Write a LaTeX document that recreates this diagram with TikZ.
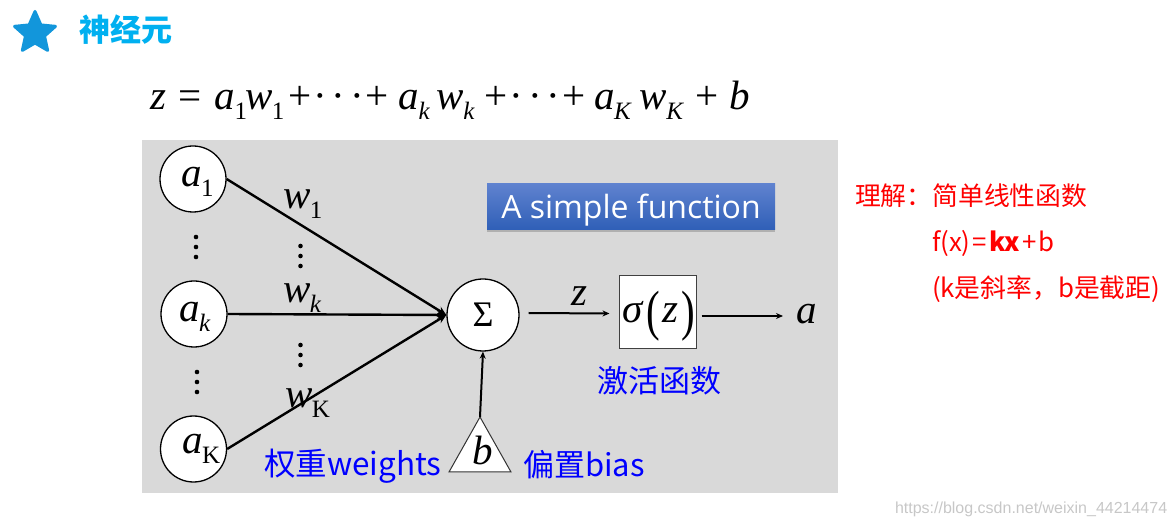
\documentclass[tikz,border=0pt]{standalone}
\usepackage{fontspec}
\usepackage{graphicx}
\setmainfont{Liberation Serif}
\newfontfamily\cjk{Noto Sans CJK SC}
\newfontfamily\uifont{Open Sans}
\newfontfamily\arialf{Liberation Sans}
\usetikzlibrary{arrows.meta,shapes.geometric,shadows,calc}
\definecolor{panelgray}{HTML}{D9D9D9}
\definecolor{titleblue}{HTML}{00B0F0}
\definecolor{starblue}{HTML}{1296DB}
\definecolor{btnTop}{HTML}{5F82CF}
\definecolor{btnBot}{HTML}{2F5FB7}
\newcommand\fz[1]{\fontsize{#1}{#1}\selectfont}
\newcommand\ssb[2]{\textit{#1}\kern-.5pt\raisebox{-.22em}{\fz{25}#2}}
\newcommand\ssi[2]{\textit{#1}\kern-.5pt\raisebox{-.22em}{\fz{25}\textit{#2}}}
\newcommand\dotcol[2]{\foreach \d in {-10,0,10}{\fill (#1,#2+\d) circle (2.3);}}
\newcommand\cdotsx{\makebox[54pt]{\textperiodcentered\kern5pt\textperiodcentered\kern5pt\textperiodcentered}}
\newcommand\bigparen[1]{\raisebox{-.17em}{\scalebox{1}[1.35]{#1}}}
\tikzset{
  lab/.style={inner sep=0pt,outer sep=0pt,anchor=base west},
  bluetxt/.style={lab,text=blue,font=\cjk\fz{31}},
  redtxt/.style={lab,text=red,font=\cjk\fz{25.8}},
  neuron/.style={circle,draw=black,line width=1.3pt,fill=white,minimum size=66,inner sep=0pt},
  link/.style={line width=2.4pt,-{Stealth[length=9pt,width=8pt]}},
  thinlink/.style={line width=2pt,-{Stealth[length=7pt,width=6pt]}},
  var/.style={lab,font=\fz{41}\itshape},
}
\begin{document}
\begin{tikzpicture}[x=1pt,y=-1pt]
\useasboundingbox (0,0) rectangle (1176,526);
\node[star,star points=5,star point ratio=2.15,fill=starblue,draw=starblue,line width=3pt,line join=round,minimum size=43,inner sep=0pt] (star) at (35,33) {};
\node[lab,font=\cjk\bfseries\fz{31},text=titleblue] (title) at (79,42) {神经元};
\node[lab,font=\fz{41}] (formula) at (150,110) {\textit{z}\kern12.5pt=\kern13pt\ssb{a}{1}\kern-2pt\ssb{w}{1}\kern4pt+\cdotsx+\kern10pt\ssi{a}{k}\kern6.5pt\ssi{w}{k}\kern10pt+\cdotsx+\kern9pt\ssi{a}{K}\kern7.5pt\ssi{w}{K}\kern11pt+\kern11pt\textit{b}};
\fill[panelgray] (142,140) rectangle (838,493);
\node[neuron] (a1) at (193,179) {};
\node[neuron] (ak) at (194,314) {};
\node[neuron] (aK) at (193.5,449) {};
\node[lab,font=\fz{41}] (a1t) at (181,187) {\ssb{a}{1}};
\node[lab,font=\fz{41}] (akt) at (179,322) {\ssi{a}{k}};
\node[lab,font=\fz{41}] (aKt) at (182,454) {\ssb{a}{K}};
\node[circle,draw=black,line width=1.3pt,fill=white,minimum size=72,inner sep=0pt,font=\fz{36}] (sum) at (483,315) {Σ};
\node[draw=black!75,line width=1pt,fill=white,minimum width=77,minimum height=73,inner sep=0pt,font=\fz{41}] (sigma) at (657.5,312.5) {\raisebox{0pt}[21pt][0pt]{\kern2pt\textit{σ}\kern3pt\bigparen{(}\kern2pt\textit{z}\kern3pt\bigparen{)}}};
\coordinate (bapex) at (480,417);
\coordinate (bl) at (449,472);
\coordinate (br) at (511,472);
\draw[fill=white,draw=black!80,line width=1pt,line join=miter] (bapex) -- (bl) -- (br) -- cycle;
\node[var] (bt) at (472,465) {b};
\draw[link] (a1.east) -- (sum.west);
\draw[link] (ak.east) -- (sum.west);
\draw[link] (aK.east) -- (sum.west);
\draw[thinlink] ([xshift=9pt,yshift=2pt]sum.east) -- ([xshift=-9pt,yshift=-.5pt]sigma.west |- 0,313);
\node[var] (aout) at (796,324) {a};
\draw[thinlink] ([xshift=5pt,yshift=-3.5pt]sigma.east) -- ([xshift=-13pt]aout.west |- 0,316);
\draw[thinlink] (bapex) -- (sum.south);
\node[var] (zt) at (571,306) {z};
\node[lab,font=\fz{41}] (w1t) at (283,209) {\ssb{w}{1}};
\node[lab,font=\fz{41}] (wkt) at (283,303) {\ssi{w}{k}};
\node[lab,font=\fz{41}] (wKt) at (285,408) {\ssb{w}{K}};
\dotcol{196}{247}
\dotcol{197}{382}
\dotcol{300.5}{256}
\dotcol{300.5}{355}
\node[bluetxt,font=\cjk\fz{31.5}] (wgt) at (264,476) {权重weights};
\node[bluetxt] (bia) at (523,477) {偏置bias};
\node[bluetxt] (act) at (597,393) {激活函数};
\node[draw=none,minimum width=288,minimum height=46,inner sep=0pt,top color=btnTop,bottom color=btnBot,drop shadow={opacity=.45,shadow xshift=0pt,shadow yshift=-2pt},text=white,font=\uifont\fz{32}] (btn) at (631,207) {\raisebox{0pt}[24pt][0pt]{A simple function}};
\node[redtxt] (r1) at (855,206) {理解：简单线性函数};
\node[redtxt] (r2) at (932,252) {f(x)\kern2pt=\kern2pt\textbf{kx}\kern2pt+\kern2pt b};
\node[redtxt] (r3) at (932,298) {(k是斜率，b是截距)};
\node[lab,text=black!22,font=\arialf\fz{16}] (wm) at (895,513) {https://blog.csdn.net/weixin\_44214474};
\end{tikzpicture}
\end{document}
